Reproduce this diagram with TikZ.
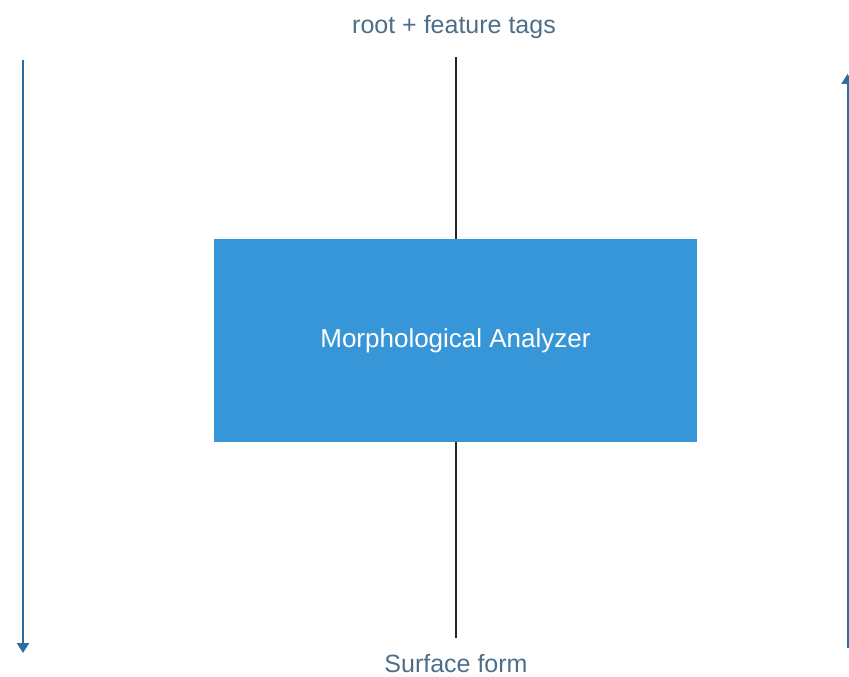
\documentclass[tikz,border=0pt]{standalone}
\usepackage{fontspec}
\setmainfont{Liberation Sans}
\usetikzlibrary{arrows.meta}
\definecolor{boxblue}{HTML}{3796D8}
\definecolor{labelcol}{HTML}{4D6E88}
\definecolor{arrowcol}{HTML}{2F6C9C}
\tikzset{
  lbl/.style={text=labelcol, font=\fontsize{25}{30}\selectfont, inner sep=0pt},
  analyzer/.style={fill=boxblue, draw=none, minimum width=483pt, minimum height=203pt, inner sep=0pt, text=white, font=\fontsize{26}{30}\selectfont},
  link/.style={draw=black!85, line width=1.5pt},
  flow/.style={draw=arrowcol, line width=2pt, -{Triangle[length=10pt,width=12pt]}}
}
\begin{document}
\begin{tikzpicture}[x=1pt,y=-1pt]
\useasboundingbox (0,0) rectangle (849,677);
\node[analyzer] (box) at (455.5,340.5) {Morphological Analyzer};
\node[lbl] (top) at (454,27) {root + feature tags};
\node[lbl] (bot) at (456,664) {Surface form};
\coordinate (tl) at (456,57);
\coordinate (bl) at (456,638);
\draw[link] (tl) -- (box.north -| tl);
\draw[link] (box.south -| bl) -- (bl);
\coordinate (ls) at (23,60);
\coordinate (le) at (23,653);
\coordinate (rs) at (847.5,648);
\coordinate (re) at (847.5,74);
\draw[flow] (ls) -- (le);
\draw[flow] (rs) -- (re);
\end{tikzpicture}
\end{document}
